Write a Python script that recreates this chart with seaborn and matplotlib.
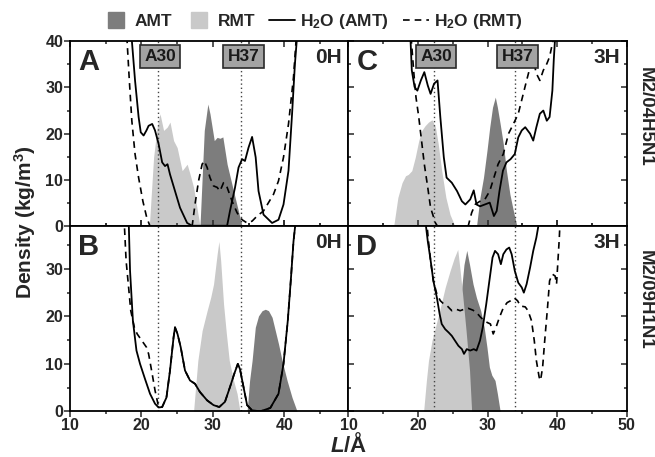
import matplotlib
matplotlib.use("Agg")
import matplotlib.pyplot as plt
from matplotlib.lines import Line2D
from matplotlib.ticker import MultipleLocator
import seaborn as sns

sns.set_theme(style="ticks")
plt.rcParams["font.family"] = ["Liberation Sans", "DejaVu Sans"]
plt.rcParams["font.weight"] = "bold"
plt.rcParams["mathtext.fontset"] = "custom"
plt.rcParams["mathtext.rm"] = "Liberation Sans:bold"
plt.rcParams["mathtext.it"] = "Liberation Sans:italic:bold"
plt.rcParams["mathtext.bf"] = "Liberation Sans:bold"

dark = "#7d7d7d"
light = "#c9c9c9"

# ---- panel A (M2/04H5N1, 0H)
a_amt_x = [28.2, 28.8, 29.3, 29.6, 30.2, 30.6, 31.0, 31.4, 32.0, 32.9, 34.1]
a_amt_y = [0, 20.7, 26.4, 24.3, 18.5, 19.2, 19.0, 19.3, 13.4, 7.6, 0]
a_rmt_x = [21.1, 21.7, 22.2, 22.6, 23.1, 23.6, 24.0, 24.5, 25.0, 25.7, 26.4, 26.8, 27.3, 28.2]
a_rmt_y = [0, 14.9, 21.4, 24.3, 20.7, 21.4, 22.5, 18.5, 17.0, 12.0, 13.4, 11.3, 8.4, 0]
a_w_amt_x = [18.4, 18.65, 19.1, 19.6, 19.9, 20.3, 20.7, 21.0, 21.5, 21.9, 22.4, 22.9, 23.3,
             23.65, 24.0, 24.7, 25.4, 26.4, 27.1, 32.0, 32.4, 33.1, 33.6, 34.1, 34.5, 35.0,
             35.5, 36.0, 36.4, 37.1, 38.3, 39.2, 39.9, 40.6, 41.1, 41.5, 41.8]
a_w_amt_y = [45, 40.2, 31.5, 23.6, 20.3, 19.6, 20.7, 21.7, 22.1, 20.7, 17.8, 13.8, 13.0,
             13.4, 11.2, 7.6, 4.0, 0.7, 0.1, 0.1, 3.3, 8.3, 12.7, 14.5, 14.1, 17.0,
             19.3, 14.9, 7.6, 2.5, 0.7, 1.4, 4.7, 12.0, 24.3, 35.1, 41]
a_w_rmt_x = [17.95, 18.3, 18.65, 19.1, 19.6, 20.2, 20.75, 21.2, 27.1, 27.5, 28.0, 28.5, 28.8,
             29.2, 29.6, 30.1, 30.6, 31.0, 31.5, 32.0, 32.7, 33.4, 34.1, 34.8, 35.5, 36.2,
             37.1, 37.8, 38.5, 39.2, 39.9, 40.6, 41.3, 41.7]
a_w_rmt_y = [41, 31.5, 22.8, 15.6, 10.5, 5.4, 1.8, 0, 0, 4.7, 9.8, 13.4, 14.1,
             12.7, 10.5, 8.7, 8.4, 7.6, 9.4, 8.4, 5.4, 2.9, 1.4, 0.7, 1.1, 2.2,
             3.3, 5.1, 6.9, 9.8, 14.9, 22.1, 32.2, 41]

# ---- panel B (M2/09H1N1, 0H)
b_amt_x = [34.8, 35.15, 35.5, 35.95, 36.4, 36.9, 37.35, 37.8, 38.3, 38.75, 39.2, 39.7, 40.4, 41.1, 41.8]
b_amt_y = [0, 6.5, 10.7, 17.7, 20.1, 21.2, 21.5, 21.2, 19.8, 17.0, 14.2, 10.7, 6.5, 2.9, 0]
b_rmt_x = [27.3, 27.9, 28.5, 29.2, 29.7, 30.1, 30.6, 30.85, 31.1, 31.5, 31.9, 32.3, 32.9, 33.4, 33.8]
b_rmt_y = [0, 10.7, 17.0, 21.2, 24.0, 26.8, 33.1, 35.8, 31.7, 22.6, 16.3, 10.7, 6.5, 3.7, 0]
b_w_amt_x = [18.2, 18.4, 18.8, 19.3, 19.8, 20.5, 21.2, 21.9, 22.4, 22.9, 23.5, 24.0, 24.5,
             24.7, 25.05, 25.5, 26.1, 26.8, 27.5, 28.2, 29.2, 30.1, 30.9, 31.7, 32.4, 33.0,
             33.5, 33.8, 34.3, 34.8, 35.5, 36.65, 38.05, 39.2, 39.9, 40.5, 40.95, 41.3, 41.6]
b_w_amt_y = [40.7, 29.6, 19.1, 12.8, 10.0, 6.8, 3.7, 1.6, 0.8, 0.9, 2.9, 8.6, 15.6,
             17.7, 16.3, 13.5, 8.6, 6.5, 5.8, 4.05, 2.3, 1.3, 0.9, 2.0, 5.1, 7.9,
             10.0, 8.9, 5.1, 1.3, 0.2, 0, 0.7, 3.7, 10.0, 19.1, 28.2, 35.8, 40]
b_w_rmt_x = [17.55, 17.85, 18.2, 18.5, 19.0, 19.4, 20.05, 20.7, 21.0, 21.5, 21.9, 22.4, 22.9,
             23.5, 24.0, 24.5, 24.7, 25.05, 25.5, 26.1, 26.8, 27.5, 28.2, 29.2, 30.1, 30.9,
             31.7, 32.4, 33.0, 33.5, 33.8, 34.3, 34.8, 35.5, 36.65, 38.05, 39.2, 39.9, 40.5,
             40.95, 41.3, 41.6]
b_w_rmt_y = [41, 31.7, 26.1, 21.2, 17.7, 16.3, 14.9, 13.5, 12.1, 7.9, 4.4, 0.9, 0.9,
             2.9, 8.6, 15.6, 17.7, 16.3, 13.5, 8.6, 6.5, 5.8, 4.05, 2.3, 1.3, 0.9,
             2.0, 5.1, 7.9, 10.0, 8.9, 5.1, 1.3, 0.2, 0, 0.7, 3.7, 10.0, 19.1,
             28.2, 35.8, 40]

# ---- panel C (M2/04H5N1, 3H)
c_amt_x = [28.4, 28.9, 29.4, 29.9, 30.3, 30.7, 31.1, 31.4, 31.8, 32.25, 32.7, 33.2, 33.7, 34.2]
c_amt_y = [0, 6.2, 10.5, 16.3, 21.4, 25.7, 27.9, 25.7, 22.1, 17.8, 12.0, 6.9, 3.3, 0]
c_rmt_x = [16.5, 17.1, 17.7, 18.2, 18.6, 19.1, 19.6, 20.1, 20.55, 21.0, 21.5, 22.0, 22.5,
           22.9, 23.4, 24.0, 24.6, 25.3]
c_rmt_y = [0, 6.2, 9.4, 10.9, 11.2, 12.0, 14.9, 18.5, 20.7, 21.7, 22.5, 23.0, 21.4,
           17.8, 12.0, 6.2, 2.5, 0]
c_w_amt_x = [18.9, 19.1, 19.5, 19.9, 20.4, 20.9, 21.4, 21.8, 22.3, 22.8, 23.2, 23.7, 24.1,
             24.85, 25.6, 26.3, 26.8, 27.5, 28.0, 28.4, 28.9, 29.6, 30.3, 30.9, 31.3, 31.7,
             32.2, 32.7, 33.3, 33.9, 34.4, 34.9, 35.4, 36.1, 36.55, 37.0, 37.5, 38.0, 38.5,
             38.9, 39.3, 39.5, 39.7]
c_w_amt_y = [40.9, 33.7, 30.1, 29.3, 31.5, 33.3, 30.4, 28.6, 30.8, 31.5, 23.6, 14.9, 10.5,
             9.4, 7.6, 5.4, 4.7, 5.8, 7.75, 4.7, 4.3, 4.7, 5.1, 2.2, 3.3, 7.6,
             12.0, 13.8, 14.5, 15.6, 19.2, 20.7, 21.4, 20.0, 18.5, 21.4, 24.3, 25.0, 22.8,
             23.6, 29.3, 35.9, 40.9]
c_w_rmt_x = [19.0, 19.4, 19.7, 20.1, 20.5, 20.9, 21.4, 21.8, 22.5, 22.8, 27.2, 27.7, 28.2,
             28.9, 29.6, 30.3, 30.9, 31.5, 32.25, 33.0, 33.7, 34.4, 35.0, 35.6, 36.1, 36.55,
             37.0, 37.5, 38.0, 38.5, 38.9, 39.4, 39.6]
c_w_rmt_y = [40.9, 33.0, 27.9, 23.6, 18.5, 13.4, 8.3, 4.0, 0.7, 0, 0, 2.9, 4.7,
             5.4, 5.8, 7.6, 10.5, 13.4, 15.6, 20.0, 22.1, 24.3, 27.9, 31.5, 34.4, 35.9,
             33.0, 31.5, 33.7, 35.1, 36.6, 40.2, 42.4]

# ---- panel D (M2/09H1N1, 3H)
d_amt_x = [25.1, 25.6, 26.05, 26.6, 27.0, 27.4, 27.9, 28.4, 29.0, 29.5, 29.9, 30.25, 30.6,
           31.06, 31.4, 31.8]
d_amt_y = [0, 12.1, 22.6, 30.9, 33.9, 30.9, 26.8, 23.9, 21.2, 17.7, 13.5, 9.3, 7.6, 6.5, 3.7, 0]
d_rmt_x = [20.8, 21.2, 21.5, 22.0, 22.5, 23.2, 23.9, 24.6, 25.2, 25.7, 26.0, 26.4, 26.9, 27.4, 27.7]
d_rmt_y = [0, 6.5, 10.7, 14.9, 17.7, 21.8, 26.1, 29.6, 32.3, 34.1, 30.3, 24.7, 17.0, 8.6, 0]
d_w_amt_x = [21.0, 21.4, 21.75, 22.2, 22.7, 23.1, 23.4, 23.9, 24.4, 24.85, 25.3, 25.8, 26.3,
             26.6, 27.0, 27.5, 28.0, 28.4, 28.9, 29.3, 29.8, 30.25, 30.7, 31.06, 31.5, 31.9,
             32.25, 32.7, 33.1, 33.45, 33.9, 34.4, 34.9, 35.2, 35.6, 36.1, 36.55, 37.0, 37.4]
d_w_amt_y = [40.7, 35.8, 32.4, 27.5, 24.0, 20.5, 18.4, 17.3, 16.6, 15.9, 14.9, 13.8, 13.1,
             12.1, 13.1, 12.8, 13.1, 12.8, 14.9, 17.7, 22.6, 27.5, 32.4, 33.8, 33.1, 31.0,
             33.1, 34.1, 34.5, 33.1, 29.6, 27.1, 26.1, 25.0, 26.8, 30.3, 33.8, 36.6, 40]
d_w_rmt_x = [21.2, 21.5, 21.8, 22.2, 22.7, 23.2, 23.7, 24.2, 24.85, 25.5, 26.05, 26.6, 27.2,
             27.9, 28.4, 29.0, 29.5, 29.96, 30.4, 30.8, 31.2, 31.7, 32.25, 32.8, 33.3, 33.8,
             34.3, 34.7, 35.4, 35.8, 36.3, 36.7, 37.0, 37.4, 37.6, 37.9, 38.2, 38.6, 38.9,
             39.3, 39.7, 39.9, 40.1, 40.3, 40.4]
d_w_rmt_y = [40.7, 35.8, 31.7, 27.5, 24.7, 23.3, 22.6, 22.2, 21.2, 21.5, 21.2, 21.5, 21.7,
             21.3, 20.8, 19.8, 19.1, 18.7, 18.4, 16.3, 17.7, 19.8, 21.8, 22.9, 23.3, 23.9,
             23.3, 22.2, 22.0, 21.2, 19.1, 14.9, 10.7, 7.2, 6.5, 9.3, 14.9, 21.8, 27.5,
             28.9, 28.5, 26.8, 31.7, 36.6, 40]

residues = ["A30", "H37"]
residue_pos = [22.3, 34.0]
strains = ["M2/04H5N1", "M2/09H1N1"]

fig, axes = plt.subplots(2, 2, figsize=(6.55, 4.57), dpi=100)
fig.subplots_adjust(left=0.107, right=0.957, top=0.910, bottom=0.100, wspace=0, hspace=0)

panels = [
    (axes[0, 0], "A", "0H", a_amt_x, a_amt_y, a_rmt_x, a_rmt_y, a_w_amt_x, a_w_amt_y, a_w_rmt_x, a_w_rmt_y),
    (axes[1, 0], "B", "0H", b_amt_x, b_amt_y, b_rmt_x, b_rmt_y, b_w_amt_x, b_w_amt_y, b_w_rmt_x, b_w_rmt_y),
    (axes[0, 1], "C", "3H", c_amt_x, c_amt_y, c_rmt_x, c_rmt_y, c_w_amt_x, c_w_amt_y, c_w_rmt_x, c_w_rmt_y),
    (axes[1, 1], "D", "3H", d_amt_x, d_amt_y, d_rmt_x, d_rmt_y, d_w_amt_x, d_w_amt_y, d_w_rmt_x, d_w_rmt_y),
]

for i, (ax, letter, time, ax_, ay_, rx_, ry_, wax, way, wrx, wry) in enumerate(panels):
    top = i in (0, 2)
    left = i in (0, 1)

    ax.fill_between(ax_, ay_, color=dark, lw=0, zorder=1)
    ax.fill_between(rx_, ry_, color=light, lw=0, zorder=1.5)
    for p in residue_pos:
        ax.axvline(p, color="#444444", ls=(0, (1, 2)), lw=1, zorder=2)
    sns.lineplot(x=wax, y=way, ax=ax, color="black", lw=1.3, estimator=None, sort=False, zorder=3)
    sns.lineplot(x=wrx, y=wry, ax=ax, color="black", lw=1.2, estimator=None, sort=False,
                 linestyle=(0, (4, 3)), zorder=3)

    ax.set_xlim(10, 49 if left else 50)
    ax.set_ylim(0, 40 if top else 39)
    ax.set_xticks([10, 20, 30, 40] if left else [10, 20, 30, 40, 50])
    ax.xaxis.set_minor_locator(MultipleLocator(5))
    ax.set_yticks([0, 10, 20, 30, 40] if top else [0, 10, 20, 30])
    ax.yaxis.set_minor_locator(MultipleLocator(5))
    for s in ax.spines.values():
        s.set_linewidth(1.3)
        s.set_color("black")

    ax.tick_params(axis="y", which="both", direction="out" if left else "in",
                   left=True, right=True, labelleft=left, labelsize=11.5, width=1.1)
    ax.tick_params(axis="x", which="both", direction="in" if top else "out",
                   top=True, bottom=True, labelbottom=not top, labelsize=11.5, width=1.1)
    ax.tick_params(which="major", length=4, pad=1)
    ax.tick_params(which="minor", length=2.5)
    for lab in ax.get_xticklabels() + ax.get_yticklabels():
        lab.set_fontweight("bold")

    ax.text(0.028, 0.965, letter, transform=ax.transAxes, ha="left", va="top",
            fontsize=21, fontweight="bold")
    ax.text(0.975, 0.965, time, transform=ax.transAxes, ha="right", va="top",
            fontsize=15, fontweight="bold")
    if top:
        for name, p in zip(residues, residue_pos):
            ax.text(p + 0.3, 36.7, name, ha="center", va="center", fontsize=12.5,
                    fontweight="bold", color="#1a1a1a", zorder=5,
                    bbox=dict(boxstyle="square,pad=0.25", fc="#a3a3a3", ec="#2a2a2a", lw=1.2))

handles = [
    Line2D([], [], marker="s", ls="none", markersize=12, color=dark, label="AMT"),
    Line2D([], [], marker="s", ls="none", markersize=12, color=light, label="RMT"),
    Line2D([], [], color="black", lw=1.3, label="H$_2$O (AMT)"),
    Line2D([], [], color="black", lw=1.2, ls=(0, (4, 3)), label="H$_2$O (RMT)"),
]
fig.legend(handles=handles, loc="center", bbox_to_anchor=(0.478, 0.952), ncol=4,
           frameon=False, handlelength=1.5, handletextpad=0.3, columnspacing=0.8,
           prop={"size": 12.5, "weight": "bold"})

fig.text(0.038, 0.514, "Density (kg/m$^3$)", rotation=90, ha="center", va="center",
         fontsize=15, fontweight="bold")
fig.text(0.532, 0.026, "$\\mathit{L}$/Å", ha="center", va="center", fontsize=16, fontweight="bold")
fig.text(0.985, 0.744, strains[0], rotation=270, ha="center", va="center", fontsize=13.5, fontweight="bold")
fig.text(0.985, 0.344, strains[1], rotation=270, ha="center", va="center", fontsize=13.5, fontweight="bold")

fig.savefig("out.png", dpi=100)
